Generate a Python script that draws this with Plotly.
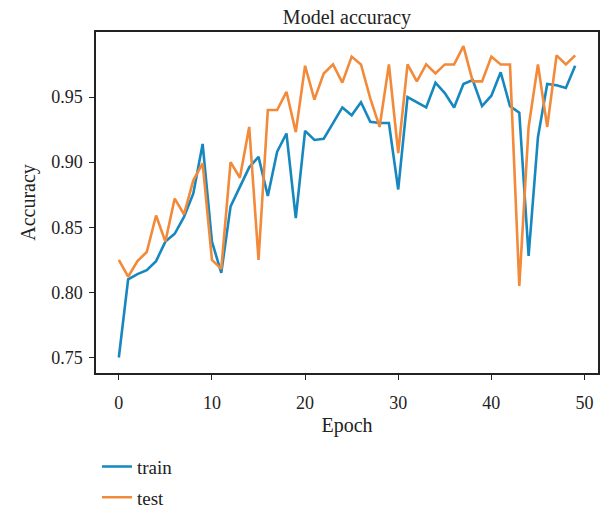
import plotly.graph_objects as go

epochs = list(range(50))
train_acc = [0.750, 0.810, 0.814, 0.817, 0.824, 0.839, 0.845, 0.858, 0.876, 0.914,
             0.839, 0.815, 0.866, 0.881, 0.896, 0.904, 0.874, 0.908, 0.922, 0.857,
             0.924, 0.917, 0.918, 0.930, 0.942, 0.936, 0.946, 0.931, 0.930, 0.930,
             0.879, 0.950, 0.946, 0.942, 0.961, 0.953, 0.942, 0.960, 0.963, 0.943,
             0.951, 0.969, 0.943, 0.938, 0.828, 0.919, 0.960, 0.959, 0.957, 0.974]
test_acc = [0.825, 0.812, 0.824, 0.831, 0.859, 0.839, 0.872, 0.860, 0.886, 0.899,
            0.825, 0.818, 0.900, 0.888, 0.927, 0.825, 0.940, 0.940, 0.954, 0.923,
            0.974, 0.948, 0.968, 0.975, 0.961, 0.981, 0.975, 0.949, 0.927, 0.975,
            0.907, 0.975, 0.962, 0.975, 0.968, 0.975, 0.975, 0.989, 0.962, 0.962,
            0.981, 0.975, 0.975, 0.805, 0.927, 0.975, 0.927, 0.982, 0.975, 0.982]
x_ticks = [0, 10, 20, 30, 40, 50]
y_ticks = [0.75, 0.80, 0.85, 0.90, 0.95]
y_tick_text = ["0.75", "0.80", "0.85", "0.90", "0.95"]

FONT = "Liberation Serif, Times New Roman, serif"
INK = "#222"

fig = go.Figure()
fig.add_trace(go.Scatter(x=epochs, y=train_acc, mode="lines", name="train",
                         legendgroup="train",
                         line=dict(color="#1787c0", width=2.6)))
fig.add_trace(go.Scatter(x=epochs, y=test_acc, mode="lines", name="test",
                         legendgroup="test",
                         line=dict(color="#f28a3a", width=2.6)))

def axis_common():
    return dict(showline=True, linecolor=INK, linewidth=1.5, mirror=True,
                ticks="outside", ticklen=5, tickwidth=1.2, tickcolor=INK,
                showgrid=False, zeroline=False, automargin=False,
                tickfont=dict(family=FONT, size=18, color=INK))

fig.update_layout(
    width=602, height=511,
    font=dict(family=FONT, color=INK),
    margin=dict(l=96, r=4, t=32, b=138, autoexpand=False),
    paper_bgcolor="white", plot_bgcolor="white",
    title=dict(text="Model accuracy", x=0.5, xanchor="center", xref="paper",
               y=1, yref="paper", yanchor="bottom", pad=dict(b=8), automargin=False,
               font=dict(family=FONT, size=20, color=INK)),
    xaxis=dict(range=[-2.45, 51.45], tickvals=x_ticks, ticklabelstandoff=8,
               title=dict(text="Epoch", font=dict(family=FONT, size=20, color=INK), standoff=6),
               **axis_common()),
    yaxis=dict(range=[0.7381, 0.9999], tickvals=y_ticks, ticktext=y_tick_text,
               ticklabelstandoff=3,
               title=dict(text="Accuracy", font=dict(family=FONT, size=20, color=INK), standoff=10),
               **axis_common()),
    legend=dict(x=0.002, xanchor="left", y=0.124, yref="container", yanchor="top",
                orientation="v", font=dict(family=FONT, size=19, color=INK),
                bgcolor="rgba(0,0,0,0)", itemwidth=30, tracegroupgap=3),
    showlegend=True,
)

fig.write_html("out.html", config={"displayModeBar": False},
               post_script="document.body.style.margin='0';")
